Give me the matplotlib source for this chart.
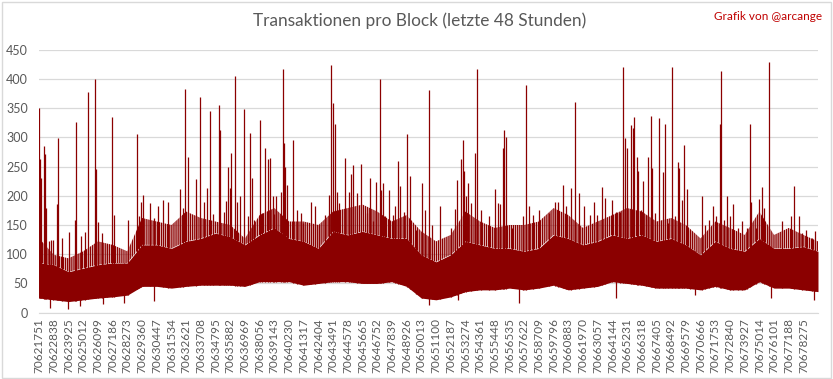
import matplotlib as mpl
import matplotlib.pyplot as plt
import numpy as np
from matplotlib.patches import Rectangle

mpl.use("Agg")
plt.rcParams["font.family"] = ["Lato", "DejaVu Sans"]
plt.rcParams["hatch.linewidth"] = 1.0
plt.rcParams["hatch.color"] = "#8B0000"

# first block of the 48h window and the label step of the category axis
first_block = 70621751
n_blocks = 57600
label_step = 1087

# series read at every labelled block (+ last block):
# bottom of the dark band, top of the solid core, top of the dense thin lines
band_offset = [k * label_step for k in range(53)] + [n_blocks - 1]
band_low = [25, 22, 19, 22, 25, 27, 30, 45, 45, 42, 45, 47, 47, 47, 45, 53, 53, 53,
            47, 50, 53, 53, 50, 50, 53, 45, 25, 22, 27, 36, 39, 39, 42, 39, 42, 47,
            39, 42, 45, 53, 50, 47, 42, 42, 42, 39, 45, 39, 39, 53, 42, 42, 39, 36]
band_core = [85, 82, 70, 76, 82, 85, 85, 116, 116, 110, 122, 127, 136, 130, 116, 133,
             145, 127, 122, 110, 139, 133, 139, 133, 127, 127, 99, 87, 99, 122, 116,
             110, 110, 105, 110, 133, 127, 116, 122, 133, 127, 133, 122, 127, 116, 99,
             122, 110, 105, 127, 110, 110, 113, 105]
band_top = [127, 99, 93, 105, 122, 116, 105, 162, 156, 150, 173, 162, 156, 150, 127,
            167, 179, 156, 156, 150, 173, 179, 185, 173, 156, 167, 139, 122, 133, 173,
            156, 145, 150, 150, 156, 179, 167, 145, 156, 167, 179, 173, 156, 162, 150,
            127, 156, 145, 133, 173, 133, 145, 133, 122]

# single blocks that stick out above the band (offset from first block, tx count)
peak_offset = [25, 74, 148, 394, 468, 542, 714, 862, 1059, 1355, 1429, 1724, 2242,
               2685, 2759, 3128, 3399, 3646, 4163, 4237, 4385, 4631, 5050, 5419, 5567,
               6552, 7267, 7415, 7538, 7710, 8227, 8474, 8770, 9188, 9558, 10445,
               10617, 10815, 11036, 11627, 11923, 12218, 12440, 12662, 12884, 13327,
               13401, 13696, 13844, 13992, 14140, 14214, 14450, 14657, 14879, 15175,
               15470, 15618, 15766, 15914, 16357, 16505, 16727, 16948, 17096, 17269,
               17391, 17539, 17908, 18056, 18130, 18204, 18352, 18795, 19041, 19337,
               19485, 20125, 20421, 20667, 21160, 21406, 21603, 21751, 21899, 22047,
               22195, 22638, 22885, 23082, 23180, 23476, 23820, 24215, 24461, 24707,
               24929, 25224, 25298, 25446, 25594, 25889, 26185, 26333, 26555, 26702,
               26949, 27220, 27441, 27885, 28328, 28525, 28846, 29018, 29658, 30471,
               30767, 30915, 31210, 31358, 31432, 31580, 31728, 31950, 32244, 32392,
               32688, 33304, 33723, 33945, 34092, 34314, 34388, 34536, 34979, 35817,
               36014, 36236, 36556, 36975, 37713, 38157, 38379, 38749, 38970, 39340,
               39635, 39931, 40300, 40744, 41039, 41261, 41630, 41827, 42369, 42665,
               42887, 42961, 43195, 43331, 43478, 43774, 43922, 43996, 44217, 44291,
               44513, 44661, 44883, 45030, 45252, 45326, 45548, 45844, 46139, 46287,
               46533, 46804, 47026, 47248, 47322, 47544, 47691, 47913, 48135, 49022,
               49244, 49539, 49835, 50057, 50377, 50426, 50648, 50870, 51092, 51313,
               51683, 51978, 52348, 52570, 52643, 53013, 53235, 53456, 53604, 53974,
               54934, 55600, 55822, 56191, 56413, 56708, 57151, 57373]
peak_value = [351, 263, 230, 286, 271, 179, 122, 125, 125, 186, 299, 127, 138, 159,
              327, 131, 138, 378, 400, 245, 155, 137, 117, 335, 167, 159, 306, 165,
              189, 202, 187, 162, 182, 193, 190, 212, 179, 383, 266, 229, 369, 190,
              213, 345, 169, 355, 312, 172, 191, 250, 213, 273, 405, 190, 199, 349,
              165, 307, 230, 159, 329, 170, 282, 263, 265, 199, 169, 199, 207, 417,
              290, 250, 219, 296, 176, 170, 153, 190, 182, 150, 167, 202, 423, 359,
              323, 207, 187, 265, 207, 238, 253, 205, 255, 170, 230, 156, 223, 400,
              210, 222, 165, 210, 167, 182, 259, 216, 173, 306, 233, 141, 222, 176,
              381, 150, 182, 145, 177, 227, 263, 295, 242, 199, 222, 187, 273, 417,
              176, 165, 211, 187, 186, 282, 313, 301, 145, 165, 389, 183, 167, 176,
              170, 190, 189, 219, 182, 213, 361, 205, 182, 167, 190, 167, 215, 196,
              193, 173, 170, 173, 421, 299, 282, 321, 316, 335, 267, 242, 176, 225,
              167, 266, 336, 247, 170, 333, 240, 323, 153, 421, 165, 258, 247, 193,
              287, 211, 142, 200, 150, 159, 182, 165, 322, 414, 159, 200, 165, 186,
              145, 156, 145, 323, 190, 145, 194, 215, 179, 429, 156, 165, 216, 165,
              136, 142, 127, 139]

# single blocks that drop below the band
dip_offset = [800, 2168, 3030, 4700, 6300, 8500, 28846, 31000, 35497, 42665, 48506,
              54100, 57300]
dip_value = [8, 7, 11, 14, 17, 20, 13, 22, 16, 25, 30, 25, 22]

red = "#8B0000"
grey = "#595959"

band_x = first_block + np.array(band_offset)
peak_x = first_block + np.array(peak_offset)
dip_x = first_block + np.array(dip_offset)

fig = plt.figure(figsize=(8.33, 3.79), dpi=100)
ax = fig.add_axes([0.047, 0.175, 0.935, 0.694])

ax.fill_between(band_x, band_low, band_core, color=red, lw=0)
ax.fill_between(band_x, band_core, band_top, facecolor="none", edgecolor=red,
                hatch="||||||||", lw=0)
ax.vlines(peak_x, np.interp(peak_x, band_x, band_low), peak_value, colors=red, lw=0.9)
ax.vlines(dip_x, dip_value, np.interp(dip_x, band_x, band_core), colors=red, lw=0.9)

ax.set_xlim(first_block, first_block + n_blocks)
ax.set_ylim(0, 450)
ax.set_yticks(range(0, 451, 50))
ticks = [first_block + k * label_step for k in range(53)]
ax.set_xticks(ticks)
ax.set_xticklabels([str(t) for t in ticks], rotation=90, fontsize=8.5, color=grey)
ax.tick_params(axis="y", labelsize=9, colors=grey, length=0, pad=8)
ax.tick_params(axis="x", length=0, pad=4)
ax.grid(axis="y", color="#D9D9D9", lw=0.9)
ax.set_axisbelow(True)
for s in ["top", "right", "left"]:
    ax.spines[s].set_visible(False)
ax.spines["bottom"].set_color("#D9D9D9")

fig.text(0.504, 0.945, "Transaktionen pro Block (letzte 48 Stunden)", ha="center",
         va="center", fontsize=12.4, color=grey)
fig.text(0.987, 0.957, "Grafik von @arcange", ha="right", va="center", fontsize=8.5,
         color="#C00000")
fig.patches.append(Rectangle((0.002, 0.003), 0.995, 0.993, transform=fig.transFigure,
                             fill=False, edgecolor="#D9D9D9", lw=1))

fig.savefig("out.png", dpi=100)
